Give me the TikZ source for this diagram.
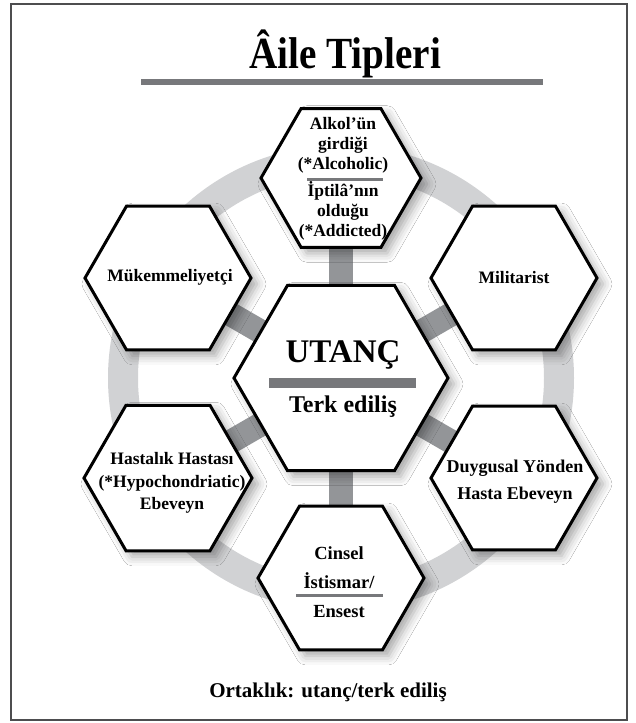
\documentclass[tikz,border=0pt]{standalone}
\usepackage{fontspec}
\setmainfont{Liberation Serif}
\newfontfamily\titlefont{Liberation Serif}[FakeStretch=0.88]
\usetikzlibrary{shapes.geometric,shadows.blur}
\definecolor{ringgray}{HTML}{D1D2D4}
\definecolor{spokegray}{HTML}{939598}
\definecolor{bargray}{HTML}{77787B}
\definecolor{framegray}{HTML}{4D4D4F}
\tikzset{
  hexa/.style={regular polygon, regular polygon sides=6, draw=black, line width=3pt,
    fill=white, inner sep=0pt, line join=miter,
    blur shadow={shadow xshift=6pt, shadow yshift=-6pt, shadow blur radius=9pt, shadow opacity=35}},
  htxt/.style={align=center, inner sep=0pt, font=\bfseries\fontsize{17.5}{20}\selectfont},
  barbox/.style={fill=bargray, inner sep=0pt, draw=none},
  spoke/.style={spokegray, line width=24pt},
}
\begin{document}
\begin{tikzpicture}[x=1pt,y=-1pt]
\useasboundingbox (0,0) rectangle (636,723);
\fill[white] (0,0) rectangle (636,723);
\draw[framegray, line width=1.3pt] (11,4) rectangle (627,720);

% title
\node[anchor=base, inner sep=0pt, font=\titlefont\bfseries\fontsize{44.5}{50}\selectfont] (title) at (345,68) {Âile Tipleri};
\node[barbox, minimum width=402pt, minimum height=6pt] (tbar) at (342,82) {};

% centres
\coordinate (pc) at (341,378);
\coordinate (p1) at (341,178);
\coordinate (p2) at (514,278);
\coordinate (p3) at (514,478);
\coordinate (p4) at (341,578);
\coordinate (p5) at (168,478);
\coordinate (p6) at (168,278);

% ring and spokes
\draw[ringgray, line width=30pt] (pc) circle[radius=218];
\foreach \p in {p1,p2,p3,p4,p5,p6} \draw[spoke] (pc) -- (\p);

% hexagons
\node[hexa, minimum size=214pt] (hc) at (pc) {};
\node[hexa, minimum size=160pt] (h1) at (p1) {};
\node[hexa, minimum size=166pt] (h2) at (p2) {};
\node[hexa, minimum size=166pt] (h3) at (p3) {};
\node[hexa, minimum size=166pt] (h4) at (p4) {};
\node[hexa, minimum size=168pt] (h5) at (p5) {};
\node[hexa, minimum size=166pt] (h6) at (p6) {};

% centre text
\node[anchor=base, inner sep=0pt, font=\bfseries\fontsize{33}{38}\selectfont] (tc1) at (343,362) {UTANÇ};
\node[barbox, minimum width=147pt, minimum height=10pt] (bc) at (342,383) {};
\node[anchor=base, inner sep=0pt, font=\bfseries\fontsize{24}{28}\selectfont] (tc2) at (343,412) {Terk ediliş};

% top
\node[htxt] (t1a) at (343,145) {Alkol’ün\\girdiği\\(*Alcoholic)};
\node[barbox, minimum width=76pt, minimum height=3pt] (b1) at (345,179) {};
\node[htxt] (t1b) at (343,211) {İptilâ’nın\\olduğu\\(*Addicted)};

% others
\node[htxt] (t2) at (p2) {Militarist};
\node[htxt, font=\bfseries\fontsize{18}{27}\selectfont] (t3) at (515,482) {Duygusal Yönden\\Hasta Ebeveyn};
\node[htxt, font=\bfseries\fontsize{18.5}{29}\selectfont] (t4a) at (339,568) {Cinsel\\İstismar/};
\node[barbox, minimum width=87pt, minimum height=3pt] (b4) at (339,595) {};
\node[htxt, font=\bfseries\fontsize{18.5}{29}\selectfont] (t4b) at (339,612) {Ensest};
\node[htxt, font=\bfseries\fontsize{17.5}{22.5}\selectfont] (t5) at (172,483) {Hastalık Hastası\\(*Hypochondriatic)\\Ebeveyn};
\node[htxt] (t6) at (170,277) {Mükemmeliyetçi};

% caption
\node[anchor=base, inner sep=0pt, font=\bfseries\fontsize{21}{26}\selectfont] (cap) at (328,697) {Ortaklık: utanç/terk ediliş};
\end{tikzpicture}
\end{document}
